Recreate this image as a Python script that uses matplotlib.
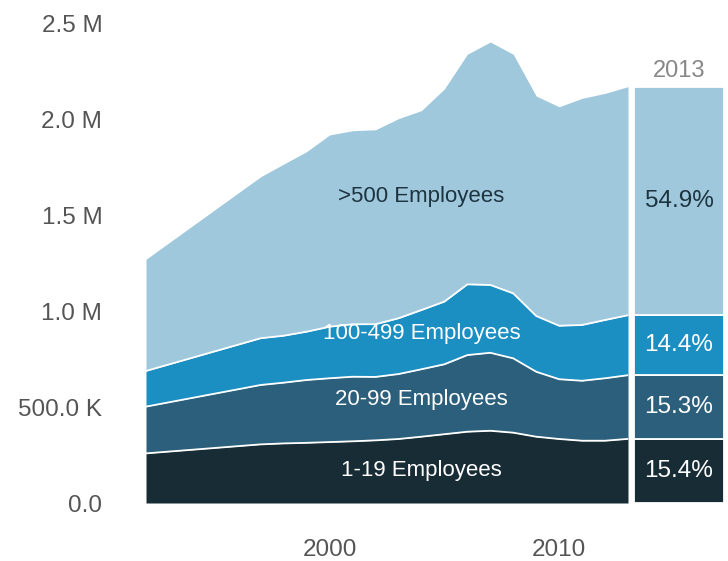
import matplotlib
matplotlib.use("Agg")
import matplotlib.pyplot as plt
import numpy as np

plt.rcParams['font.family'] = ['Liberation Sans', 'DejaVu Sans']

years = [1992, 1997, 1998, 1999, 2000, 2001, 2002, 2003, 2004, 2005,
         2006, 2007, 2008, 2009, 2010, 2011, 2012, 2013]
# employment by establishment size (thousands)
emp_1_19 = [259, 306, 311, 314, 318, 322, 327, 334, 346, 359,
            372, 377, 367, 346, 334, 325, 325, 334.6]
emp_20_99 = [244, 310, 317, 328, 333, 337, 331, 339, 352, 365,
             400, 407, 388, 339, 312, 313, 326, 332.5]
emp_100_499 = [186, 244, 245, 252, 269, 274, 275, 291, 309, 327,
               369, 354, 339, 291, 279, 291, 304, 312.9]
emp_500_plus = [583, 843, 896, 940, 1001, 1010, 1015, 1042, 1041, 1110,
                1201, 1268, 1248, 1148, 1143, 1183, 1183, 1193.0]

series_names = ["1-19 Employees", "20-99 Employees", "100-499 Employees", ">500 Employees"]
colors = ["#182c36", "#2b5f7b", "#1b8ec2", "#a0c8dc"]
label_colors = ["white", "white", "white", "#1d3440"]
label_y = [0.169e6, 0.538e6, 0.887e6, 1.602e6]
label_x = 2004

ytick_vals = [0, 500000, 1000000, 1500000, 2000000, 2500000]
ytick_labels = ["0.0", "500.0 K", "1.0 M", "1.5 M", "2.0 M", "2.5 M"]
xtick_vals = [2000, 2010]
bar_year_label = "2013"

W, H = 728, 561
fig = plt.figure(figsize=(W / 100, H / 100), dpi=100)

ax_l, ax_r = 146, 628
ax_b, ax_t = 503, 24
ax = fig.add_axes([ax_l / W, 1 - ax_b / H, (ax_r - ax_l) / W, (ax_b - ax_t) / H])

data = np.array([emp_1_19, emp_20_99, emp_100_499, emp_500_plus]) * 1000.0
x = np.array(years)
cum = np.zeros(len(years))
for i, row in enumerate(data):
    top = cum + row
    ax.fill_between(x, cum, top, color=colors[i], linewidth=0, zorder=1)
    if i < len(data) - 1:
        ax.plot(x, top, color="white", linewidth=1.3, zorder=2, solid_joinstyle="miter")
    ax.text(label_x, label_y[i], series_names[i], ha="center", va="center",
            fontsize=16, color=label_colors[i], zorder=3)
    cum = top

ax.set_xlim(years[0], years[-1])
ax.set_ylim(0, 2.5e6)
ax.set_yticks(ytick_vals)
ax.set_yticklabels(ytick_labels)
ax.set_xticks(xtick_vals)
ax.set_xticklabels([str(v) for v in xtick_vals])
ax.tick_params(axis="y", length=0, pad=31.5, labelsize=17.5, labelcolor="#555555")
ax.tick_params(axis="x", length=0, pad=26, labelsize=17.5, labelcolor="#555555")
for s in ax.spines.values():
    s.set_visible(False)

# 2013 composition bar
bx_l, bx_r = 634, 724
axb = fig.add_axes([bx_l / W, 1 - ax_b / H, (bx_r - bx_l) / W, (ax_b - ax_t) / H])
last = data[:, -1]
total = last.sum()
bottom = 0.0
for i, v in enumerate(last):
    axb.bar(0, v, bottom=bottom, width=1.0, color=colors[i], edgecolor="white",
            linewidth=1.3)
    axb.text(0, bottom + v / 2, f"{v / total * 100:.1f}%", ha="center", va="center",
             fontsize=17.5, color=label_colors[i])
    bottom += v
axb.text(0, total + 0.25 * 100000, bar_year_label, ha="center", va="bottom",
         fontsize=17, color="#888888")
axb.set_xlim(-0.5, 0.5)
axb.set_ylim(0, 2.5e6)
axb.axis("off")

fig.savefig("out.png", dpi=100)
